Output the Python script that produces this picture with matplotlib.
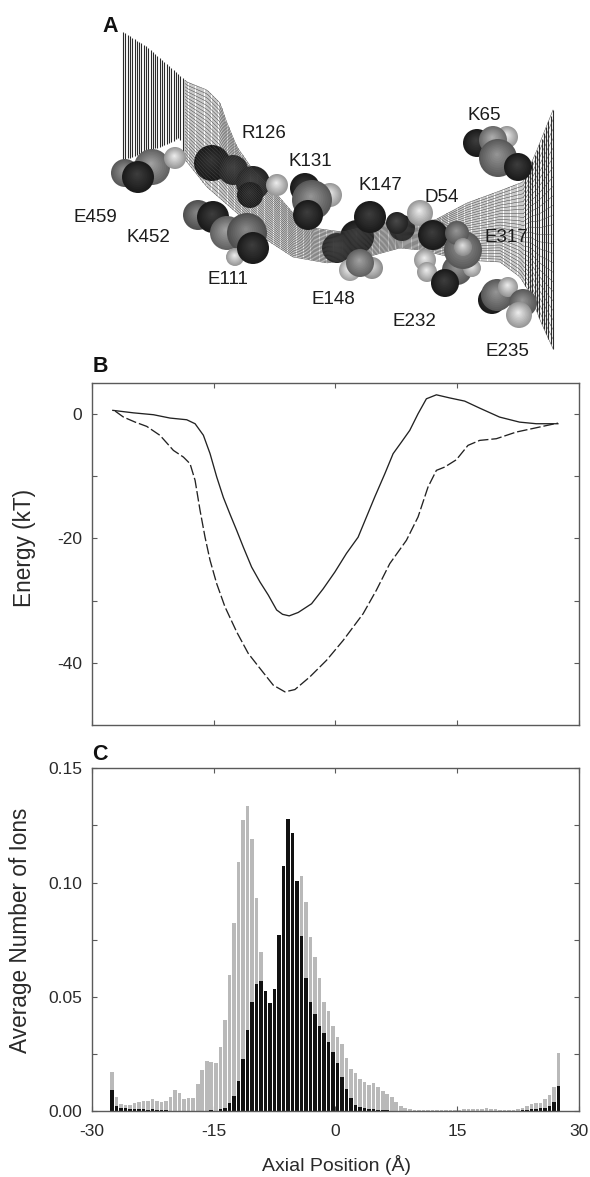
import matplotlib

matplotlib.use("Agg")

import matplotlib.pyplot as plt
import numpy as np
from matplotlib.collections import LineCollection
from matplotlib.patches import Circle
from matplotlib.ticker import FixedLocator

FIG_W = 590
FIG_H = 1177
TEXT_COLOR = "#2a2a2a"
SPINE_COLOR = "#5a5a5a"

plt.rcParams["font.family"] = ["Liberation Sans", "DejaVu Sans"]
plt.rcParams["axes.unicode_minus"] = False

# panel B, energy profiles
solid_x = [-27.4, -24.86, -22.4, -20.35, -18.3, -17.27, -16.25, -15.43, -14.61, -13.79, -12.97,
           -12.15, -11.33, -10.31, -9.28, -8.26, -7.23, -6.5, -5.68, -4.57, -2.93, -1.5, -0.06,
           1.37, 2.8, 3.83, 4.86, 6.09, 7.11, 8.14, 9.16, 10.18, 11.21, 12.44, 14.08, 15.92,
           17.77, 20.22, 22.68, 24.73, 27.4]
solid_y = [0.6, 0.2, -0.1, -0.64, -0.91, -1.55, -3.4, -6.35, -10.1, -13.4, -16.1,
           -18.7, -21.4, -24.6, -27.0, -29.1, -31.5, -32.2, -32.45, -31.9, -30.5, -28.1, -25.4,
           -22.4, -19.8, -16.55, -13.3, -9.6, -6.37, -4.5, -2.62, 0.05, 2.46, 3.1, 2.6, 2.09,
           0.96, -0.48, -1.29, -1.55, -1.55]
dashed_x = [-27.11, -26.09, -24.65, -23.22, -21.58, -19.94, -18.71, -17.89, -17.27, -16.66, -16.05,
            -15.43, -14.61, -13.59, -12.15, -10.72, -9.28, -7.64, -6.21, -4.98, -3.14, -1.09,
            0.96, 3.42, 5.06, 6.7, 8.75, 10.18, 11.41, 12.44, 13.46, 14.9, 16.33, 17.77, 19.82,
            22.27, 24.73, 27.4]
dashed_y = [0.48, -0.48, -1.29, -1.98, -3.43, -5.84, -6.91, -7.98, -10.66, -15.48, -19.76,
            -23.5, -27.27, -31.0, -35.03, -38.5, -40.9, -43.6, -44.67, -44.3, -42.26, -39.6,
            -36.4, -32.1, -28.3, -24.05, -20.3, -16.55, -11.73, -9.05, -8.52, -7.34, -5.03, -4.23,
            -3.96, -2.89, -2.2, -1.445]

# panel C, 100 bins from -27.5 to 27.5
gray_ions = [
    .0172, .0060, .0030, .0025, .0025, .0034, .0038, .0045, .0042, .0051,
    .0042, .0041, .0044, .0060, .0092, .0080, .0051, .0058, .0057, .0118,
    .0178, .0220, .0216, .0212, .0281, .0398, .0597, .0822, .1092, .1272,
    .1333, .1191, .0934, .0694, .0450, .0400, .0450, .0600, .0750, .0900,
    .1000, .0980, .1029, .0913, .0761, .0676, .0584, .0475, .0438, .0374,
    .0326, .0293, .0233, .0184, .0165, .0139, .0126, .0114, .0121, .0107,
    .0088, .0074, .0060, .0041, .0020, .0012, .0008, .0005, .0004, .0003,
    .0003, .0003, .0004, .0004, .0005, .0005, .0006, .0006, .0007, .0007,
    .0007, .0009, .0008, .0012, .0008, .0007, .0006, .0006, .0006, .0006,
    .0010, .0015, .0023, .0031, .0034, .0037, .0051, .0070, .0104, .0255,
]
black_ions = [
    .0092, .0022, .0015, .0012, .0007, .0007, .0007, .0007, .0006, .0007,
    .0006, .0004, .0003, .0002, .0002, .0002, .0002, .0001, .0001, .0001,
    .0001, .0001, .0003, .0002, .0007, .0013, .0034, .0065, .0133, .0227,
    .0355, .0477, .0555, .0569, .0527, .0472, .0534, .0771, .1073, .1278,
    .1216, .1007, .0764, .0584, .0476, .0425, .0371, .0340, .0300, .0257,
    .0209, .0147, .0097, .0058, .0028, .0019, .0013, .0007, .0007, .0006,
    .0004, .0004, .0002, .0002, .0001, .0001, .0001, .0000, .0000, .0000,
    .0000, .0000, .0000, .0000, .0000, .0000, .0000, .0000, .0000, .0000,
    .0000, .0000, .0000, .0000, .0000, .0000, .0000, .0000, .0000, .0001,
    .0002, .0003, .0006, .0009, .0010, .0012, .0015, .0023, .0041, .0110,
]

# panel A, surface edges in picture pixels
surface_top_x = [123, 147, 170, 187, 207, 220, 227, 237, 253, 273, 293, 313, 343, 380, 413, 435, 467, 497, 523, 537, 555]
surface_top_y = [32, 47, 67, 82, 90, 103, 123, 147, 170, 190, 213, 228, 232, 223, 220, 220, 203, 192, 182, 150, 105]
surface_bot_x = [123, 170, 180, 183, 207, 237, 267, 293, 327, 367, 400, 420, 463, 500, 520, 530, 540, 555]
surface_bot_y = [160, 143, 137, 157, 187, 213, 240, 257, 263, 257, 248, 250, 260, 262, 277, 293, 320, 353]

# panel A, residue atoms: x, y, radius in pixels, gray level
atoms_back = [
    (125, 173, 14, .5), (152, 167, 18, .55), (175, 158, 11, .85), (138, 177, 16, .15),
    (277, 185, 11, .85), (305, 188, 15, .15), (330, 195, 12, .85), (312, 200, 20, .5),
    (308, 215, 15, .15), (370, 217, 16, .15), (397, 223, 11, .2), (420, 213, 13, .85),
    (350, 270, 11, .9), (372, 268, 11, .8), (360, 263, 14, .55),
]
atoms_mid = [
    (198, 215, 15, .45), (213, 217, 16, .15), (227, 233, 17, .55), (247, 233, 20, .45),
    (235, 257, 9, .85), (253, 248, 16, .15), (425, 260, 11, .85), (427, 272, 10, .85),
    (457, 270, 15, .5), (445, 283, 14, .15), (472, 268, 9, .85), (433, 235, 15, .15),
    (463, 250, 19, .5), (457, 233, 12, .5), (463, 247, 9, .8),
    (477, 143, 14, .15), (507, 137, 11, .85), (493, 140, 14, .6), (498, 158, 19, .5),
    (518, 167, 14, .15), (492, 300, 14, .15), (497, 295, 16, .5), (508, 287, 10, .85),
    (523, 303, 14, .5), (519, 315, 13, .85),
]
atoms_under_mesh = [
    (212, 163, 18, .12), (233, 170, 15, .2), (253, 183, 17, .2), (250, 195, 13, .1),
    (357, 237, 17, .15), (337, 248, 15, .2), (402, 228, 13, .15),
]

# panel A text, centres in pixels
residue_names = ["R126", "K131", "K147", "D54", "K65", "E317", "E235", "E232", "E148", "E111", "K452", "E459"]
residue_x = [264, 310, 380, 442, 484, 506, 507, 414, 333, 228, 148, 95]
residue_y = [134, 162, 186, 197, 115, 238, 352, 321, 300, 279, 238, 218]


def add_axes_px(fig, left, top, right, bottom):
    return fig.add_axes([left / FIG_W, 1 - bottom / FIG_H, (right - left) / FIG_W, (bottom - top) / FIG_H])


def style_axes(ax):
    ax.tick_params(which="both", direction="in", top=True, right=True, color=SPINE_COLOR,
                   labelcolor=TEXT_COLOR, labelsize=12.5, pad=7, width=0.8, length=3.5)
    for spine in ax.spines.values():
        spine.set_color(SPINE_COLOR)
        spine.set_linewidth(1.0)
        spine.set_zorder(5)
    ax.set_xlim(-30, 30)
    ax.set_xticks([-30, -15, 0, 15, 30])


def draw_atom(ax, x, y, r, level, zorder):
    # stack of shrinking discs gives the shaded ball look
    for frac in np.linspace(1, 0.1, 10):
        shade = level * (0.7 + 0.3 * (1 - frac)) + 0.1 * (1 - frac)
        offset = (1 - frac) * r * 0.2
        ax.add_patch(Circle((x - offset * 0.3, y - offset), r * frac, color=str(min(shade, 1)),
                            lw=0, zorder=zorder))


def draw_mesh(ax):
    columns = np.arange(123, 555, 2.3)
    top = np.interp(columns, surface_top_x, surface_top_y)
    bottom = np.interp(columns, surface_bot_x, surface_bot_y)

    # end sheets have plain heavy stripes, the channel a fine light net
    in_sheet = (columns < 183) | (columns > 525)
    widths = np.where(in_sheet, 0.8, 0.35)
    verticals = [[(x, t), (x, b)] for x, t, b in zip(columns, top, bottom)]
    ax.add_collection(LineCollection(verticals, colors="#2b2b2b", linewidths=widths, zorder=3))

    keep = columns >= 183
    across = []
    for frac in np.linspace(0, 1, 26):
        across.append(np.column_stack([columns[keep], (top + (bottom - top) * frac)[keep]]))
    ax.add_collection(LineCollection(across, colors="#444444", linewidths=0.35, zorder=3))


def draw_panel_a(fig):
    ax = fig.add_axes([0, 0, 1, 1], zorder=-1)
    ax.set_xlim(0, FIG_W)
    ax.set_ylim(FIG_H, 0)
    ax.axis("off")

    for atom in atoms_under_mesh:
        draw_atom(ax, *atom, zorder=2)
    draw_mesh(ax)
    for atom in atoms_back + atoms_mid:
        draw_atom(ax, *atom, zorder=4)

    for name, x, y in zip(residue_names, residue_x, residue_y):
        ax.text(x, y, name, fontsize=13.5, color="#1c1c1c", ha="center", va="center", zorder=6)
    ax.text(110, 27, "A", fontsize=15.5, fontweight="bold", color="#111111", ha="center", va="center")
    ax.text(100, 367, "B", fontsize=15.5, fontweight="bold", color="#111111", ha="center", va="center")
    ax.text(100, 755, "C", fontsize=15.5, fontweight="bold", color="#111111", ha="center", va="center")
    ax.text(24, 548, "Energy (kT)", fontsize=16.3, color=TEXT_COLOR, rotation=90, ha="center", va="center")
    ax.text(21, 930, "Average Number of Ions", fontsize=16.3, color=TEXT_COLOR, rotation=90, ha="center", va="center")
    ax.text(336, 1165, "Axial Position (Å)", fontsize=14, color=TEXT_COLOR, ha="center", va="center")


def draw_panel_b(fig):
    ax = add_axes_px(fig, 91.7, 383, 579, 725)
    style_axes(ax)
    ax.patch.set_alpha(0)
    ax.plot(solid_x, solid_y, color="#222222", lw=0.95)
    ax.plot(dashed_x, dashed_y, color="#222222", lw=0.95, ls=(0, (8, 2.2)))
    ax.set_ylim(-50, 5)
    ax.set_yticks([0, -20, -40])
    ax.yaxis.set_minor_locator(FixedLocator([-10, -30]))
    ax.tick_params(axis="x", labelbottom=False)


def draw_panel_c(fig):
    ax = add_axes_px(fig, 91.7, 768.3, 579, 1111)
    style_axes(ax)
    ax.patch.set_alpha(0)
    centers = np.linspace(-27.5, 27.5, len(gray_ions))
    ax.bar(centers, gray_ions, width=0.44, color="#b9b9b9", lw=0, zorder=2)
    ax.bar(centers, black_ions, width=0.44, color="#111111", lw=0, zorder=3)
    ax.set_ylim(0, 0.15)
    ax.set_yticks([0, 0.05, 0.10, 0.15])
    ax.set_yticklabels(["0.00", "0.05", "0.10", "0.15"])
    ax.yaxis.set_minor_locator(FixedLocator([0.025, 0.075, 0.125]))
    ax.set_xticklabels(["-30", "-15", "0", "15", "30"])
    ax.tick_params(axis="x", pad=9)


def main():
    fig = plt.figure(figsize=(FIG_W / 100, FIG_H / 100), dpi=100)
    draw_panel_a(fig)
    draw_panel_b(fig)
    draw_panel_c(fig)
    fig.savefig("out.png", dpi=100)


if __name__ == "__main__":
    main()
